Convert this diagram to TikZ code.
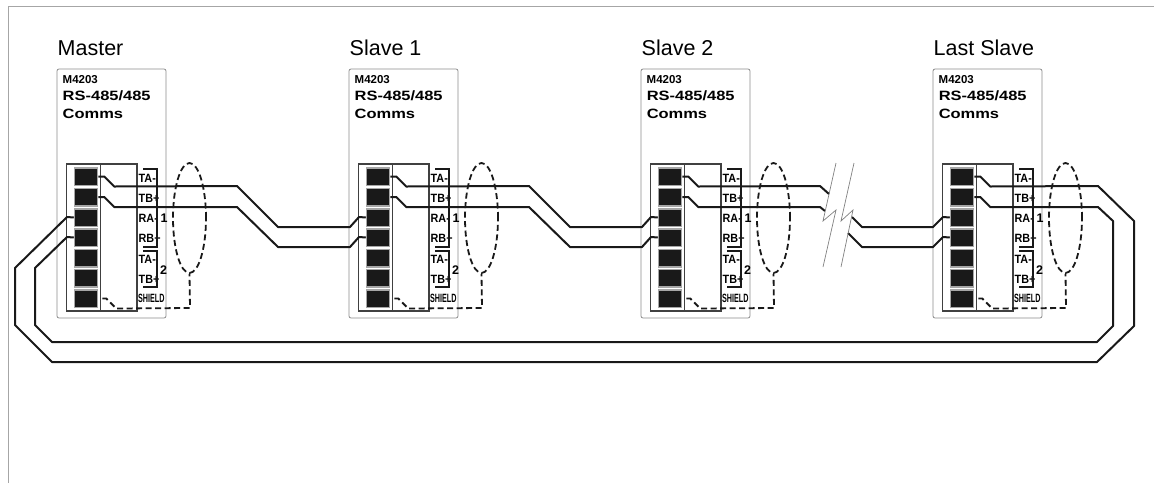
\documentclass[tikz,border=0pt]{standalone}
\usepackage{fontspec}
\usetikzlibrary{shapes.geometric}
\setmainfont{Liberation Sans}
\tikzset{
  x=1pt, y=-1pt,
  rule/.style={draw=black!35, line width=1pt},
  box/.style={draw=black!45, line width=0.8pt, rounded corners=2pt},
  block/.style={draw=black!75, line width=1.2pt},
  term/.style={draw=black!35, line width=1.5pt, fill=black!90, minimum width=23pt, minimum height=17.5pt, inner sep=0pt},
  wire/.style={draw=black!90, line width=2pt, line join=round},
  bracket/.style={draw=black!90, line width=2pt},
  shield/.style={draw=black!90, line width=1.8pt, dash pattern=on 6pt off 3.5pt},
  pin/.style={inner sep=0pt, anchor=west, xscale=0.9, font=\fontsize{12}{13}\bfseries\selectfont},
  digit/.style={inner sep=0pt, anchor=west, font=\fontsize{12.5}{13}\bfseries\selectfont},
  title/.style={inner sep=0pt, anchor=west, font=\fontsize{21.5}{24}\selectfont},
  small/.style={inner sep=0pt, anchor=west, font=\fontsize{11.5}{13}\bfseries\selectfont},
  big/.style={inner sep=0pt, anchor=west, xscale=1.22, font=\fontsize{13.5}{15}\bfseries\selectfont},
  slash/.style={draw=black!50, line width=0.7pt}
}
\begin{document}
\begin{tikzpicture}
  \useasboundingbox (0,0) rectangle (1154,483);
  \draw[rule] (8,483) -- (8,6) -- (1154,6);
  \foreach \m/\x/\name in {a/0/Master, b/292/Slave 1, c/584/Slave 2, d/876/Last Slave} {
    \begin{scope}[xshift=\x pt]
      \node[title] (name\m) at (57.5,48) {\name};
      \draw[box] (57,69) rectangle (166,318);
      \node[small] (code\m) at (62.5,80) {M4203};
      \node[big] (rs\m) at (62.5,96) {RS-485/485};
      \node[big] (comms\m) at (62.5,113.5) {Comms};
      \draw[block] (66.5,164) rectangle (137,311);
      \draw[block] (100.5,164) -- (100.5,311);
      \foreach \i/\y in {1/176.5, 2/197, 3/217.5, 4/237.5, 5/258, 6/278, 7/298.5}
        \node[term] (\m\i) at (86,\y) {};
      \node[pin] (ta\m) at (138.5,178) {TA-};
      \node[pin] (tb\m) at (138.5,198) {TB+};
      \node[pin] (ra\m) at (138.5,218) {RA-};
      \node[pin] (rb\m) at (138.5,238) {RB+};
      \node[pin] (tc\m) at (138.5,259) {TA-};
      \node[pin] (td\m) at (138.5,279) {TB+};
      \node[pin, xscale=0.6667] (sh\m) at (138,298.5) {SHIELD};
      \node[digit] (one\m) at (160.5,218) {1};
      \node[digit] (two\m) at (160,270) {2};
      \draw[bracket] (143,169) -- (157,169) -- (157,247) -- (143,247);
      \draw[bracket] (143,250.5) -- (157,250.5) -- (157,287) -- (143,287);
      \node[draw=black!90, line width=1.8pt, dash pattern=on 6pt off 3.5pt, ellipse, minimum width=33pt, minimum height=110pt, inner sep=0pt] (loop\m) at (189.5,218) {};
      \draw[shield] (\m7.east) ++(4,0) -- ++(4,0) -- ++(10,10) -- (190,308) -- (loop\m.south);
    \end{scope}
  }
  \draw[wire] (a1.east) -- ++(6,0) -- ++(10,10) -- (237,186) -- (278,227) -- (350,227) -- (359,217) -- (b3.west);
  \draw[wire] (a2.east) -- ++(6,0) -- ++(10,10) -- (237,207) -- (278,247) -- (350,247) -- (359,237) -- (b4.west);
  \draw[wire] (b1.east) -- ++(6,0) -- ++(10,10) -- (529,186) -- (570,227) -- (642,227) -- (651,217) -- (c3.west);
  \draw[wire] (b2.east) -- ++(6,0) -- ++(10,10) -- (529,207) -- (570,247) -- (642,247) -- (651,237) -- (c4.west);
  \draw[wire] (c1.east) -- ++(6,0) -- ++(10,10) -- (820,186) -- (829,194);
  \draw[wire] (c2.east) -- ++(6,0) -- ++(10,10) -- (820,207) -- (825,211);
  \draw[wire] (852,217) -- (862,227) -- (933,227) -- (943,217) -- (d3.west);
  \draw[wire] (848,233) -- (862,247) -- (933,247) -- (943,237) -- (d4.west);
  \draw[wire] (d1.east) -- ++(6,0) -- ++(10,10) -- (1098,186) -- (1134,221) -- (1134,326) -- (1097,362) -- (52,362) -- (15,325) -- (15,268) -- (67,217) -- (a3.west);
  \draw[wire] (d2.east) -- ++(6,0) -- ++(10,10) -- (1098,207) -- (1113,221) -- (1113,326) -- (1097,342) -- (52,342) -- (35,325) -- (35,268) -- (67,237) -- (a4.west);
  \draw[slash] (836,163) -- (823,221) -- (836,210) -- (823,267);
  \draw[slash] (854,163) -- (841,221) -- (853,210) -- (841,267);
\end{tikzpicture}
\end{document}
